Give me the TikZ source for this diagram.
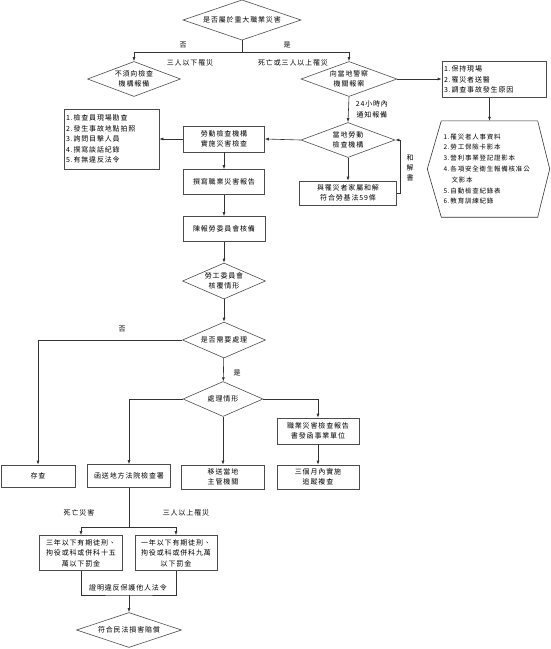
\documentclass[tikz,border=0pt]{standalone}
\usepackage{fontspec}
\setmainfont{Noto Sans CJK TC}[LetterSpace=12]
\usetikzlibrary{shapes.geometric,arrows.meta}

\begin{document}
\begin{tikzpicture}[x=1pt,y=-1pt,
		every node/.style={font=\fontsize{7}{10.5}\selectfont,inner sep=0pt},
		box/.style={draw=black!70,line width=0.6,align=center},
		listbox/.style={draw=black!70,line width=0.6,align=left,inner xsep=2pt},
		dia/.style={draw=black!70,line width=0.6,diamond,shape aspect=2.3,align=center},
		line/.style={line width=0.6,draw=black!80},
		>={Latex[length=4pt,width=3pt]}]
		\useasboundingbox (0,0) rectangle (550,649);
		% decisions and steps
		\node[dia,minimum width=118,minimum height=40] (q1) at (242,20) {是否屬於重大職業災害};
		\node[dia,minimum width=93,minimum height=35] (nrep) at (134,79) {不須向檢查\\機構報備};
		\node[dia,minimum width=96,minimum height=35] (police) at (349,79) {向當地警察\\機關報案};
		\node[listbox,text width=100,minimum height=36] (keep) at (494,79.5) {1.保持現場\\2.罹災者送醫\\3.調查事故發生原因};
		\node[align=left,text width=92,inner xsep=2pt,minimum height=96,font=\fontsize{6.5}{10.8}\selectfont] (docs) at (489.5,169)
			{1.罹災者人事資料\\2.勞工保險卡影本\\3.營利事業登記證影本\\4.各項安全衛生報備核准公\\\hspace*{8pt}文影本\\5.自動檢查紀錄表\\6.教育訓練紀錄};
		\draw[line] (docs.north west) -- (docs.north east) -- ([xshift=12pt]docs.east) -- (docs.south east)
			-- (docs.south west) -- ([xshift=-14pt]docs.west) -- cycle;
		\node[dia,minimum width=94,minimum height=35] (labor) at (348,140) {當地勞動\\檢查機構};
		\node[box,minimum width=81,minimum height=26] (inspect) at (224,139) {勞動檢查機構\\實施災害檢查};
		\node[listbox,text width=91,minimum height=60] (list) at (111.5,139)
			{1.檢查員現場勘查\\2.發生事故地點拍照\\3.詢問目擊人員\\4.撰寫談話紀錄\\5.有無違反法令};
		\node[box,minimum width=97,minimum height=24] (settle) at (348,193) {與罹災者家屬和解\\符合勞基法59條};
		\node[box,minimum width=81,minimum height=25] (report) at (224,182) {撰寫職業災害報告};
		\node[box,minimum width=82,minimum height=25] (submit) at (224,229) {陳報勞委員會核備};
		\node[dia,minimum width=83,minimum height=36] (reply) at (224,281) {勞工委員會\\核覆情形};
		\node[dia,minimum width=83,minimum height=36] (need) at (224,340) {是否需要處理};
		\node[dia,minimum width=80,minimum height=35] (handle) at (223,399) {處理情形};
		\node[box,minimum width=74,minimum height=22] (archive) at (38,476) {存查};
		\node[box,minimum width=83,minimum height=23] (court) at (129,476) {函送地方法院檢查署};
		\node[box,minimum width=83,minimum height=24] (transfer) at (223,477) {移送當地\\主管機關};
		\node[box,minimum width=82,minimum height=26] (letter) at (318,431) {職業災害檢查報告\\書發函事業單位};
		\node[box,minimum width=82,minimum height=24] (track) at (318,477) {三個月內實施\\追蹤複查};
		\node[box,minimum width=83,minimum height=35] (pen3) at (81,553) {三年以下有期徒刑、\\拘役或科或併科十五\\萬以下罰金};
		\node[box,minimum width=82,minimum height=35] (pen1) at (176,553) {一年以下有期徒刑、\\拘役或科或併科九萬\\以下罰金};
		\node[dia,minimum width=105,minimum height=35] (civil) at (129,630) {符合民法損害賠償};
		% connectors
		\coordinate (s1) at (242,52);
		\draw[line] (q1.south) -- (s1);
		\draw[line,->] (s1) -| (nrep.north);
		\draw[line,->] (s1) -| (police.north);
		\node (no1) at (183,45) {否};
		\node (yes1) at (287,45) {是};
		\node (few) at (190,63) {三人以下罹災};
		\node (many) at (293,63) {死亡或三人以上罹災};
		\draw[line,->] (police.east) -- (police.east -| keep.west);
		\draw[line,->] (keep.south -| docs.north) -- (docs.north);
		\draw[line,->] (police.south) -- node[right=7pt,align=center] (notify) {24小時內\\通知報備} (labor.north);
		\draw[line,->] (labor.west) -- (inspect.east);
		\draw[line,->] (inspect.west) -- (list.east);
		\draw[line,->] (labor.south) -- (settle.north);
		\draw[line,->] (settle.east) -- ++(3,0) |- (labor.east);
		\node[align=center,font=\fontsize{7}{10}\selectfont] (deed) at (410,168) {和\\解\\書};
		\draw[line,->] (inspect) -- (report);
		\draw[line,->] (report) -- (submit);
		\draw[line,->] (submit) -- (reply);
		\draw[line,->] (reply) -- (need);
		\draw[line,->] (need.west) -| (archive.north);
		\node (no2) at (122,329) {否};
		\draw[line,->] (need) -- (handle);
		\node (yes2) at (237,373) {是};
		\draw[line,->] (handle.west) -| (court.north);
		\draw[line,->] (handle) -- (transfer);
		\draw[line,->] (handle.east) -| (letter.north);
		\draw[line,->] (letter) -- (track);
		\coordinate (s2) at (129,527);
		\draw[line] (court.south) -- (s2);
		\draw[line,->] (s2) -| (pen3.north);
		\draw[line,->] (s2) -| (pen1.north);
		\node (death) at (79,513) {死亡災害};
		\node (three) at (186,513) {三人以上罹災};
		\coordinate (s3) at (129,595);
		\draw[line] (pen3.south) |- (s3) -| (pen1.south);
		\node (prove) at (128,588) {證明違反保護他人法令};
		\draw[line,->] (s3) -- (civil.north);
	\end{tikzpicture}
\end{document}
